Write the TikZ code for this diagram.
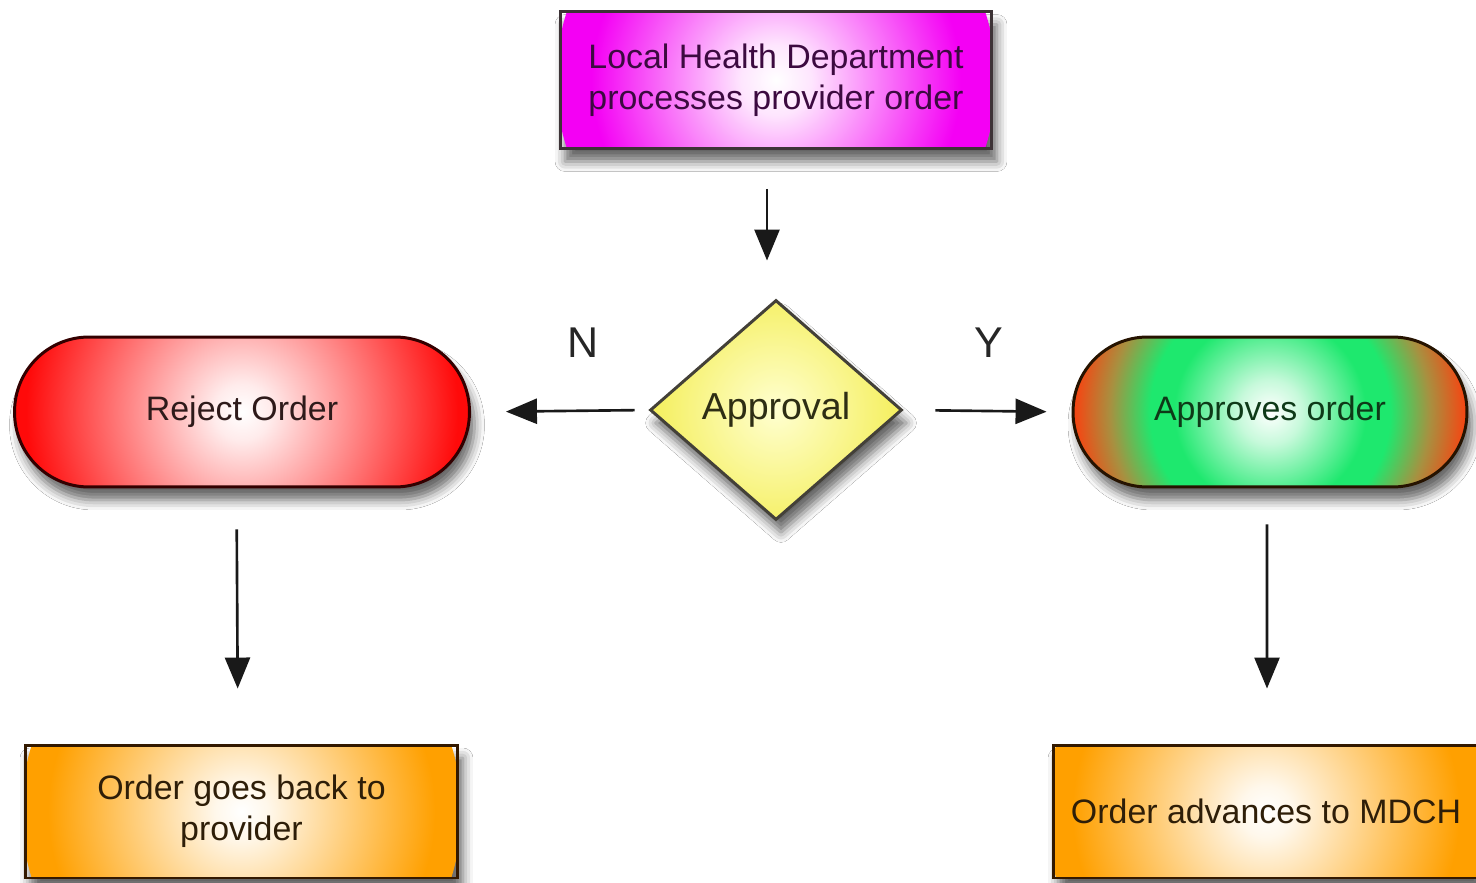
\documentclass[tikz,border=0pt]{standalone}
\usepackage{fontspec}
\setmainfont{Liberation Sans}
\usetikzlibrary{shapes.geometric,arrows.meta,shadows.blur}
\definecolor{magE}{HTML}{F400F4}
\definecolor{redE}{HTML}{FF0A0A}
\definecolor{grnE}{HTML}{1EE86E}
\definecolor{grnR}{HTML}{FF3C0C}
\definecolor{grnM}{HTML}{A89040}
\definecolor{orgE}{HTML}{FFA000}
\definecolor{yelE}{HTML}{F4EE58}
\definecolor{yelC}{HTML}{FFFFD0}
\definecolor{txtMag}{HTML}{3C0A40}
\definecolor{txtRed}{HTML}{2E1A1A}
\definecolor{txtGrn}{HTML}{0E3A18}
\definecolor{txtYel}{HTML}{2E2E14}
\definecolor{txtOrg}{HTML}{2E1E08}
\pgfdeclareradialshading{magsh}{\pgfpoint{0bp}{0bp}}{color(0bp)=(white); color(4bp)=(white!90!magE); color(21bp)=(magE); color(50bp)=(magE)}
\pgfdeclareradialshading{redsh}{\pgfpoint{0bp}{0bp}}{color(0bp)=(white); color(3bp)=(white!92!redE); color(23bp)=(redE); color(50bp)=(redE)}
\pgfdeclareradialshading{grnsh}{\pgfpoint{0bp}{0bp}}{color(0bp)=(white); color(4bp)=(white!75!grnE); color(12bp)=(grnE); color(15bp)=(grnE); color(20bp)=(grnM); color(25bp)=(grnR); color(50bp)=(grnR)}
\pgfdeclareradialshading{orgsh}{\pgfpoint{0bp}{0bp}}{color(0bp)=(white); color(3bp)=(white!92!orgE); color(22bp)=(orgE); color(50bp)=(orgE)}
\pgfdeclareradialshading{yelsh}{\pgfpoint{0bp}{0bp}}{color(0bp)=(yelC); color(25bp)=(yelE); color(50bp)=(yelE)}
\tikzset{
  box/.style n args={3}{draw=#1, line width=1.7pt, text=#2, align=center, inner sep=0pt,
    font=\fontsize{19.3}{23.3}\selectfont,
    blur shadow={shadow xshift=0.1cm, shadow yshift=-0.26cm, shadow blur radius=0.2cm, shadow opacity=60},
    path picture={\shade[shading=#3] (path picture bounding box.center) circle (4.4cm);}},
  arr/.style={line width=1.5pt, draw=black!90, -{Triangle[length=0.62cm,width=0.5cm]}},
  lbl/.style={font=\fontsize{24.5}{26}\selectfont, text=black!85},
}
\begin{document}
\begin{tikzpicture}[x=0.02cm,y=-0.02cm]
\useasboundingbox[fill=white] (0,0) rectangle (1476,882);
% nodes
\node[box={black!80!magenta!60!black}{txtMag}{magsh}, rectangle,
  minimum width=8.64cm, minimum height=2.74cm] (top) at (776,80)
  {Local Health Department\\processes provider order};
\node[box={black!75!yellow!60!black}{txtYel}{yelsh}, diamond,
  minimum width=5.04cm, minimum height=4.4cm, font=\fontsize{21.4}{24}\selectfont,
  path picture={\shade[shading=yelsh] (path picture bounding box.center) circle (2.6cm);}] (dia) at (776,410) {Approval};
\node[box={black!80!red}{txtRed}{redsh}, rectangle, rounded corners=1.49cm,
  minimum width=9.1cm, minimum height=3cm,
  path picture={\shade[shading=redsh] (path picture bounding box.center) circle (4.7cm);}] (rej) at (242,412) {Reject Order};
\node[box={black!85!orange}{txtGrn}{grnsh}, rectangle, rounded corners=1.49cm,
  minimum width=7.88cm, minimum height=3cm,
  path picture={\shade[shading=grnsh] (path picture bounding box.center) circle (4.0cm);}] (app) at (1270,412) {Approves order};
\node[box={black!80!orange}{txtOrg}{orgsh}, rectangle,
  minimum width=8.66cm, minimum height=2.66cm] (bl) at (241.5,811.5)
  {Order goes back to\\provider};
\node[box={black!80!orange}{txtOrg}{orgsh}, rectangle,
  minimum width=8.52cm, minimum height=2.66cm] (br) at (1266,811.5)
  {Order advances to MDCH};
% labels
\node[lbl] (nlab) at (583,343) {N};
\node[lbl] (ylab) at (989,343) {Y};
% connectors
\draw[arr, shorten <=0.78cm, shorten >=0.76cm] ([xshift=-0.18cm]top.south) -- ([xshift=-0.18cm]dia.north);
\draw[arr, shorten <=0.28cm, shorten >=0.7cm] (dia.west) -- (rej.east);
\draw[arr, shorten <=0.64cm, shorten >=0.5cm] (dia.east) -- (app.west);
\draw[arr, shorten <=0.82cm, shorten >=1.1cm] ([xshift=-0.11cm]rej.south) -- ([xshift=-0.07cm]bl.north);
\draw[arr, shorten <=0.72cm, shorten >=1.1cm] ([xshift=-0.06cm]app.south) -- ([xshift=0.02cm]br.north);
\end{tikzpicture}
\end{document}
